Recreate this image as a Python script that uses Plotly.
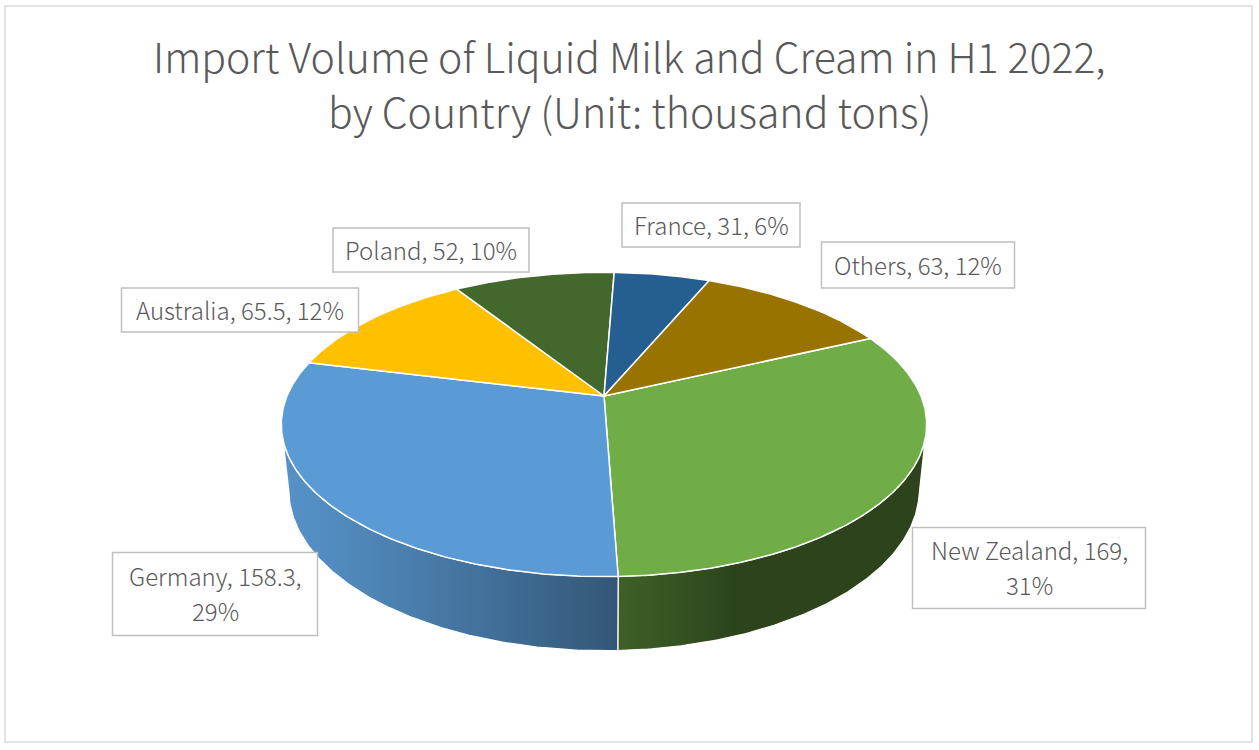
import numpy as np
import plotly.graph_objects as go

# ---------------- data ----------------
countries = ["New Zealand", "Germany", "Australia", "Poland", "France", "Others"]
volumes = [169, 158.3, 65.5, 52, 31, 63]
colors = ["#70AD47", "#5B9BD5", "#FFC000", "#43682B", "#255E91", "#997300"]
title_lines = ["Import Volume of Liquid Milk and Cream in H1 2022,",
               "by Country (Unit: thousand tons)"]

# ---------------- layout / style ----------------
W, H = 1259, 750
FONT = "Noto Sans CJK SC"
TXT = "#595959"
first_angle = 65.0          # degrees, clockwise from 12 o'clock
CX, CY, K = 604.0, 396.0, 317.0
ALPHA = np.radians(27.6)
PERSP = 0.211
THICK = 0.235
S, C = np.sin(ALPHA), np.cos(ALPHA)

# label boxes: center x, center y, box width, box height, wrap
label_boxes = {
    "New Zealand": (1029, 568, 233, 81, True),
    "Germany": (215, 594, 205, 83, True),
    "Australia": (240, 310, 237, 44, False),
    "Poland": (431, 250, 196, 44, False),
    "France": (711, 225, 178, 44, False),
    "Others": (918, 265, 193, 46, False),
}


def proj(theta_deg, r, h):
    th = np.radians(theta_deg)
    x = r * np.sin(th)
    z = -r * np.cos(th)
    yv = h * C - z * S
    zv = h * S + z * C
    sc = 1.0 / (1.0 - PERSP * zv)
    return CX + K * x * sc, CY - K * yv * sc


def shade(theta_deg):
    f = 0.39 + 0.543 * max(0.0, np.cos(np.radians(theta_deg - 250)))
    return min(f, 1.0)


def darken(hexc, f):
    r, g, b = int(hexc[1:3], 16), int(hexc[3:5], 16), int(hexc[5:7], 16)
    return "rgb(%d,%d,%d)" % (round(r * f), round(g * f), round(b * f))


total = float(sum(volumes))
fracs = [v / total for v in volumes]
starts, ends = [], []
acc = first_angle
for f in fracs:
    starts.append(acc)
    acc += f * 360.0
    ends.append(acc)

# silhouette angles (extreme left / right of the top rim)
samp = np.linspace(0, 360, 3601)
xs_s = np.array([proj(a, 1, 0)[0] for a in samp])
th_right = samp[np.argmax(xs_s)]
th_left = samp[np.argmin(xs_s)]

fig = go.Figure()

# ---- side walls (front-visible part only) ----
for name, a0, a1, col in zip(countries, starts, ends, colors):
    segs = []
    for shift in (-360, 0, 360):
        lo = max(a0 + shift, th_right)
        hi = min(a1 + shift, th_left)
        if hi > lo:
            segs.append((lo, hi))
    for lo, hi in segs:
        ang = np.linspace(lo, hi, 120)
        top = [proj(a, 1, 0) for a in ang]
        bot = [proj(a, 1, -THICK) for a in ang[::-1]]
        px = [p[0] for p in top] + [p[0] for p in bot] + [top[0][0]]
        py = [p[1] for p in top] + [p[1] for p in bot] + [top[0][1]]
        xmin, xmax = min(px), max(px)
        pts = sorted([(proj(a, 1, 0)[0], shade(a)) for a in ang])
        cs = []
        for xv, sv in pts:
            pos = (xv - xmin) / (xmax - xmin)
            cs.append([min(max(pos, 0), 1), darken(col, sv)])
        cs[0][0] = 0.0
        cs[-1][0] = 1.0
        clean = []
        last = -1
        for pos, cc in cs:
            if pos > last:
                clean.append([pos, cc])
                last = pos
        clean[-1][0] = 1.0
        fig.add_trace(go.Scatter(
            x=px, y=py, mode="lines", fill="toself",
            line=dict(color="white", width=1.2),
            fillgradient=dict(type="horizontal", colorscale=clean,
                              start=xmin, stop=xmax),
            hoverinfo="skip", showlegend=False))

# ---- top faces ----
for name, v, a0, a1, col in zip(countries, volumes, starts, ends, colors):
    ang = np.linspace(a0, a1, max(int((a1 - a0) * 2), 8))
    rim = [proj(a, 1, 0) for a in ang]
    cxp, cyp = proj(0, 0, 0)
    px = [cxp] + [p[0] for p in rim] + [cxp]
    py = [cyp] + [p[1] for p in rim] + [cyp]
    fig.add_trace(go.Scatter(
        x=px, y=py, mode="lines", fill="toself", fillcolor=col,
        line=dict(color="white", width=1.5),
        name=name, hovertemplate=f"{name}: {v}<extra></extra>",
        showlegend=False))

shapes = [dict(type="rect", xref="x", yref="y", x0=5, y0=6, x1=1252, y1=742,
               line=dict(color="#D9D9D9", width=1.5), fillcolor="rgba(0,0,0,0)",
               layer="below")]
annotations = []

# ---- data labels ----
for name, v, f in zip(countries, volumes, fracs):
    bx, by, bw, bh, wrap = label_boxes[name]
    vtxt = f"{v:g}"
    pct = f"{round(f * 100)}%"
    shapes.append(dict(type="rect", xref="x", yref="y",
                       x0=bx - bw / 2, x1=bx + bw / 2, y0=by - bh / 2, y1=by + bh / 2,
                       line=dict(color="#BFBFBF", width=1.5), fillcolor="white",
                       layer="above"))
    if wrap:
        lines = [f"{name}, {vtxt},", pct]
        offs = [-17.5, 17.5]
    else:
        lines = [f"{name}, {vtxt}, {pct}"]
        offs = [0]
    for ln, o in zip(lines, offs):
        annotations.append(dict(x=bx, y=by + o - 1, xref="x", yref="y", text=ln,
                                showarrow=False, xanchor="center", yanchor="middle",
                                font=dict(family=FONT, size=24, color=TXT, weight=300)))

# ---- title ----
for ln, yy in zip(title_lines, [55, 110]):
    annotations.append(dict(x=629, y=yy, xref="x", yref="y", text=ln,
                            showarrow=False, xanchor="center", yanchor="middle",
                            font=dict(family=FONT, size=41, color=TXT, weight=300)))

fig.update_layout(
    width=W, height=H, autosize=False,
    margin=dict(l=0, r=0, t=0, b=0),
    paper_bgcolor="white", plot_bgcolor="white",
    xaxis=dict(range=[0, W], visible=False, fixedrange=True),
    yaxis=dict(range=[H, 0], visible=False, fixedrange=True),
    shapes=shapes, annotations=annotations,
    showlegend=False,
)

fig.write_html("out.html")
